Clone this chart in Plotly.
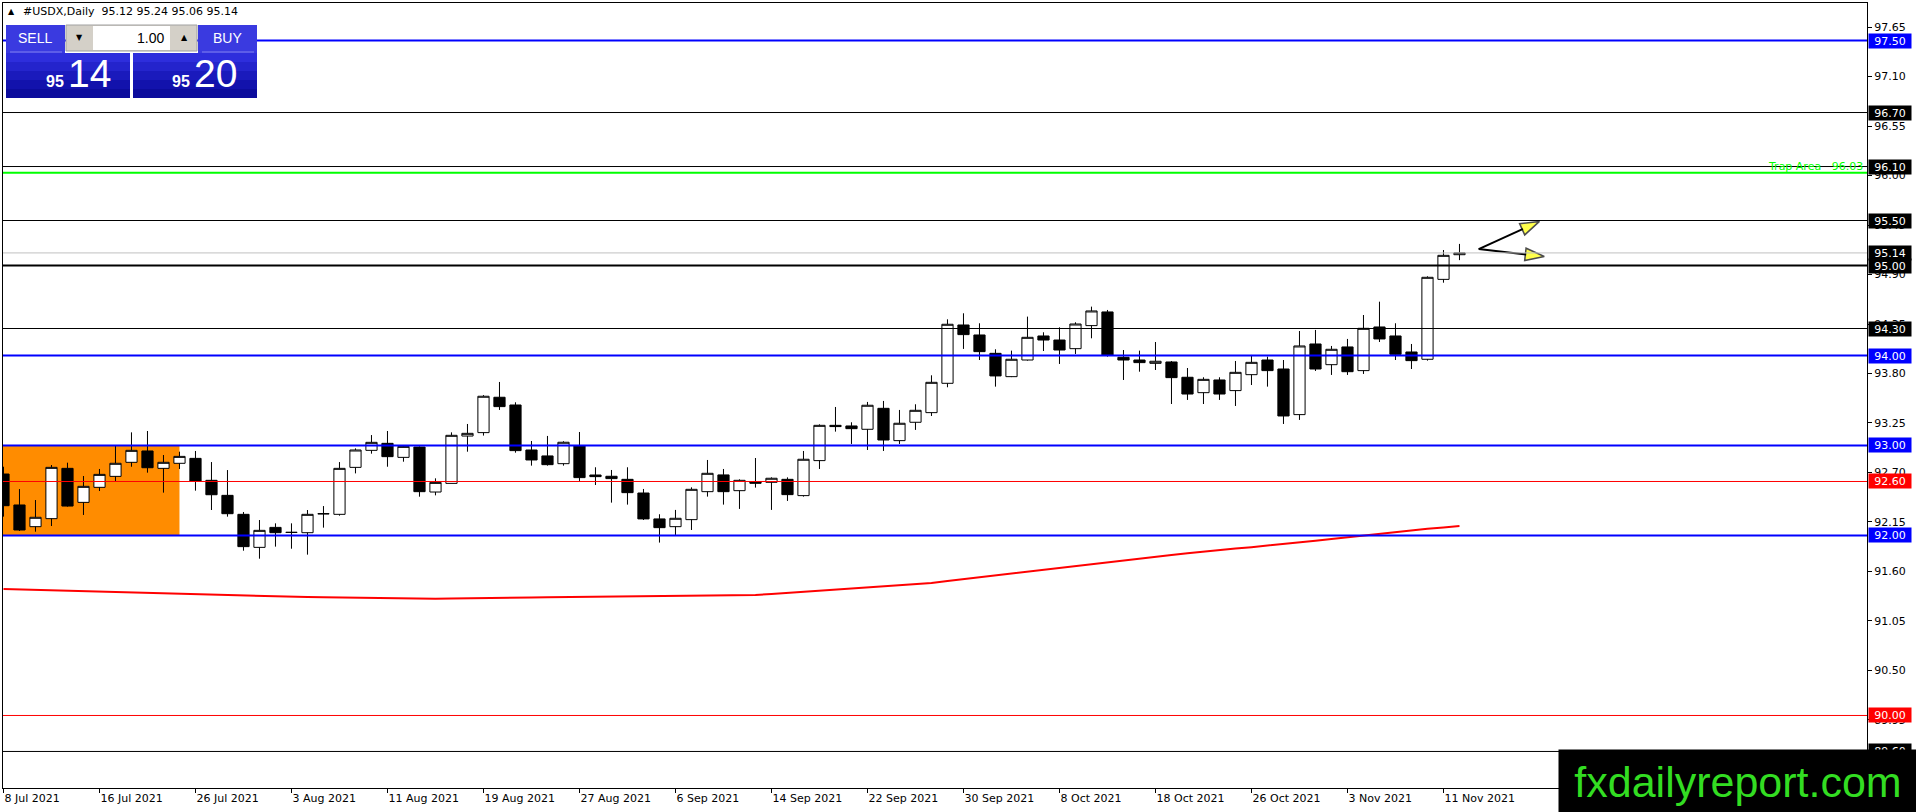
import plotly.graph_objects as go

# USDX daily, 8 Jul 2021 .. 12 Nov 2021
tick_pos = [0, 6, 12, 18, 24, 30, 36, 42, 48, 54, 60, 66, 72, 78, 84, 90]
tick_text = ["8 Jul 2021", "16 Jul 2021", "26 Jul 2021", "3 Aug 2021", "11 Aug 2021",
             "19 Aug 2021", "27 Aug 2021", "6 Sep 2021", "14 Sep 2021", "22 Sep 2021",
             "30 Sep 2021", "8 Oct 2021", "18 Oct 2021", "26 Oct 2021", "3 Nov 2021",
             "11 Nov 2021"]

opens = [92.683, 92.339, 92.098, 92.187, 92.746, 92.368, 92.535, 92.657, 92.813, 92.939,
         92.746, 92.802, 92.857, 92.613, 92.446, 92.235, 91.868, 92.090, 92.033, 92.031,
         92.240, 92.235, 92.757, 92.946, 93.024, 92.868, 92.983, 92.483, 92.579, 93.105,
         93.143, 93.536, 93.450, 92.950, 92.884, 92.798, 92.998, 92.672, 92.658, 92.624,
         92.472, 92.184, 92.098, 92.176, 92.487, 92.673, 92.498, 92.598, 92.591, 92.624,
         92.443, 92.832, 93.224, 93.217, 93.180, 93.413, 93.054, 93.258, 93.365, 93.691,
         94.339, 94.228, 94.024, 93.765, 93.950, 94.217, 94.172, 94.076, 94.332, 94.484,
         93.980, 93.950, 93.913, 93.928, 93.758, 93.587, 93.728, 93.610, 93.787, 93.950,
         93.850, 93.343, 94.128, 93.898, 94.095, 93.832, 94.317, 94.217, 94.039, 93.958,
         94.846, 95.120]
highs = [92.764, 92.516, 92.394, 92.783, 92.809, 92.661, 92.739, 93.005, 93.146, 93.161,
         92.894, 92.931, 92.939, 92.816, 92.727, 92.261, 92.172, 92.135, 92.135, 92.283,
         92.327, 92.816, 92.968, 93.116, 93.161, 93.005, 92.990, 92.635, 93.146, 93.239,
         93.560, 93.706, 93.480, 93.050, 93.106, 93.047, 93.150, 92.758, 92.728, 92.758,
         92.517, 92.236, 92.284, 92.535, 92.839, 92.739, 92.624, 92.861, 92.646, 92.646,
         92.939, 93.235, 93.428, 93.258, 93.484, 93.495, 93.395, 93.458, 93.780, 94.402,
         94.469, 94.358, 94.069, 94.054, 94.432, 94.258, 94.313, 94.369, 94.543, 94.506,
         94.061, 94.054, 94.150, 93.939, 93.861, 93.758, 93.758, 93.939, 94.006, 93.987,
         93.950, 94.272, 94.284, 94.106, 94.184, 94.450, 94.598, 94.358, 94.128, 94.880,
         95.172, 95.240]
lows = [92.209, 92.050, 92.042, 92.105, 92.320, 92.228, 92.494, 92.605, 92.764, 92.698,
        92.476, 92.739, 92.498, 92.283, 92.209, 91.831, 91.742, 91.876, 91.853, 91.787,
        92.087, 92.220, 92.690, 92.909, 92.764, 92.820, 92.431, 92.446, 92.579, 92.931,
        93.110, 93.395, 92.920, 92.776, 92.776, 92.776, 92.606, 92.561, 92.365, 92.343,
        92.172, 91.921, 92.006, 92.061, 92.432, 92.343, 92.295, 92.532, 92.284, 92.384,
        92.432, 92.739, 93.154, 93.017, 92.950, 92.939, 93.017, 93.173, 93.328, 93.647,
        94.073, 93.950, 93.654, 93.760, 93.943, 94.050, 93.906, 94.017, 94.191, 93.987,
        93.728, 93.820, 93.839, 93.461, 93.506, 93.461, 93.506, 93.439, 93.672, 93.654,
        93.239, 93.284, 93.828, 93.784, 93.784, 93.795, 94.150, 93.950, 93.850, 93.943,
        94.809, 95.060]
closes = [92.331, 92.061, 92.202, 92.757, 92.327, 92.546, 92.679, 92.802, 92.946, 92.753,
          92.813, 92.879, 92.605, 92.453, 92.242, 91.876, 92.057, 92.031, 92.035, 92.235,
          92.242, 92.746, 92.950, 93.035, 92.876, 92.990, 92.487, 92.590, 93.113, 93.135,
          93.547, 93.432, 92.943, 92.839, 92.787, 93.036, 92.643, 92.654, 92.632, 92.476,
          92.184, 92.087, 92.191, 92.513, 92.691, 92.487, 92.613, 92.580, 92.636, 92.454,
          92.847, 93.224, 93.210, 93.187, 93.447, 93.061, 93.247, 93.391, 93.702, 94.347,
          94.232, 94.043, 93.773, 93.958, 94.202, 94.172, 94.061, 94.350, 94.495, 94.006,
          93.950, 93.921, 93.936, 93.754, 93.572, 93.735, 93.572, 93.813, 93.924, 93.832,
          93.328, 94.106, 93.850, 94.069, 93.820, 94.302, 94.184, 94.013, 93.943, 94.869,
          95.113, 95.140]
ma = [91.405, 91.400, 91.394, 91.388, 91.385, 91.380, 91.374, 91.371, 91.368, 91.364,
      91.361, 91.356, 91.350, 91.345, 91.339, 91.334, 91.328, 91.324, 91.320, 91.316,
      91.313, 91.310, 91.307, 91.305, 91.302, 91.299, 91.298, 91.298, 91.300, 91.304,
      91.306, 91.308, 91.310, 91.312, 91.315, 91.317, 91.318, 91.319, 91.320, 91.322,
      91.323, 91.324, 91.325, 91.327, 91.328, 91.332, 91.336, 91.340, 91.350, 91.362,
      91.375, 91.386, 91.397, 91.409, 91.420, 91.433, 91.446, 91.459, 91.472, 91.494,
      91.515, 91.536, 91.558, 91.578, 91.598, 91.617, 91.640, 91.662, 91.684, 91.706,
      91.728, 91.746, 91.765, 91.784, 91.803, 91.822, 91.838, 91.854, 91.870, 91.886,
      91.902, 91.922, 91.942, 91.962, 91.982, 92.002, 92.020, 92.038, 92.056, 92.074,
      92.090, 92.105]

levels = [97.50, 96.70, 96.10, 95.50, 95.14, 95.00, 94.30, 94.00, 93.00, 92.60, 92.00, 90.00, 89.60]
level_kind = ["blue", "black", "black", "black", "bid", "thick", "black", "blue", "blue",
              "red", "blue", "red", "black"]
trap_price = 96.03
zone_bars = [-1, 11]
zone_prices = [92.00, 93.00]
arrow_start = [92.2, 95.183]
arrow_up = [96.0, 95.49]
arrow_down = [96.3, 95.10]
header = "#USDX,Daily\u00a0 95.12 95.24 95.06 95.14"
bid_big, ask_big, big_figure = "14", "20", "95"

# colour, width, label background
styles = {"blue": ("#0000FF", 2, "#0000FF"), "black": ("#000000", 1, "#000000"),
          "thick": ("#000000", 2, "#000000"), "bid": ("#C0C0C0", 1, "#000000"),
          "red": ("#FF0000", 1, "#FF0000")}

W, H = 1916, 812
L, R, T, B = 3, 1867, 3, 788


def px(x):
    return (x - L) / (R - L)


def py(y):
    return (B - y) / (B - T)


bars = list(range(len(opens)))

fig = go.Figure()
fig.add_trace(go.Candlestick(
    x=bars, open=opens, high=highs, low=lows, close=closes,
    increasing=dict(fillcolor="white", line=dict(color="black", width=1)),
    decreasing=dict(fillcolor="black", line=dict(color="black", width=1)),
    whiskerwidth=0, hoverinfo="skip", showlegend=False))
fig.add_trace(go.Scatter(x=bars, y=ma, mode="lines", line=dict(color="#FF0000", width=2),
                         hoverinfo="skip", showlegend=False))
for tip in (arrow_up, arrow_down):
    fig.add_trace(go.Scatter(
        x=[arrow_start[0], tip[0]], y=[arrow_start[1], tip[1]], mode="lines+markers",
        line=dict(color="black", width=2),
        marker=dict(symbol="arrow", size=[0, 20], angleref="previous", color="#FFFF00",
                    line=dict(color="black", width=[0, 1.5])),
        hoverinfo="skip", showlegend=False))

shapes = []
shapes.append(dict(type="rect", xref="x", yref="y", x0=zone_bars[0], x1=zone_bars[1],
                   y0=zone_prices[0], y1=zone_prices[1], fillcolor="#FF8C00",
                   line=dict(width=0), layer="below"))
for lv, kind in zip(levels, level_kind):
    col, wd, _ = styles[kind]
    shapes.append(dict(type="line", xref="paper", yref="y", x0=0, x1=1, y0=lv, y1=lv,
                       line=dict(color=col, width=wd), layer="above"))
shapes.append(dict(type="line", xref="paper", yref="y", x0=0, x1=1, y0=trap_price, y1=trap_price,
                   line=dict(color="#00FF00", width=2), layer="above"))


def box(x0, y0, x1, y1, fill, line=None):
    shapes.append(dict(type="rect", xref="paper", yref="paper", x0=px(x0), x1=px(x1),
                       y0=py(y1), y1=py(y0), fillcolor=fill, layer="above",
                       line=dict(width=0) if line is None else dict(color=line, width=1)))


# one-click trading panel
box(6, 25, 65, 53, "#3A3AE0")
box(198, 25, 257, 53, "#3A3AE0")
box(66, 25, 197, 51, "#D4D0C8", "#A0A0A0")
box(93, 26, 170, 50, "#FFFFFF")
shapes.append(dict(type="line", xref="paper", yref="paper", x0=px(10), x1=px(62),
                   y0=py(52), y1=py(52), line=dict(color="#8080F0", width=1), layer="above"))
shapes.append(dict(type="line", xref="paper", yref="paper", x0=px(202), x1=px(254),
                   y0=py(52), y1=py(52), line=dict(color="#8080F0", width=1), layer="above"))
grad = ["#2E2EDC", "#2424CC", "#1A1ABC", "#1212AC", "#0C0C9C"]
for i, c in enumerate(grad):
    ya, yb = 53 + i * 9, 53 + (i + 1) * 9
    box(6, ya, 130, yb, c)
    box(133, ya, 257, yb, c)


def label(text, x, y, size, color, family="Liberation Sans", xanchor="center"):
    return dict(text=text, x=px(x), y=py(y), xref="paper", yref="paper", showarrow=False,
                xanchor=xanchor, yanchor="middle",
                font=dict(family=family, size=size, color=color))


ann = []
ann.append(label("▲", 11, 12, 8, "black", "DejaVu Sans"))
ann.append(label(header, 21, 12, 11, "black", "DejaVu Sans", "left"))
ann.append(label("SELL", 35, 38, 14, "white"))
ann.append(label("BUY", 227, 38, 14, "white"))
ann.append(label("1.00", 166, 38, 14, "black", xanchor="right"))
ann.append(label("▼", 79, 38, 8, "black", "DejaVu Sans"))
ann.append(label("▲", 184, 38, 8, "black", "DejaVu Sans"))
for xs, xb, big in ((55, 89, bid_big), (181, 215, ask_big)):
    ann.append(label("<b>" + big_figure + "</b>", xs, 82, 16, "white"))
    ann.append(label(big, xb, 74, 39, "white"))

ann.append(dict(text="Trap Area\u00a0\u00a0\u00a0" + "%.2f" % trap_price, x=1, y=trap_price,
                xref="paper", yref="y", xanchor="right", yanchor="bottom", showarrow=False,
                xshift=-2, yshift=-2, font=dict(family="DejaVu Sans", size=11, color="#00FF00")))
for lv, kind in zip(levels, level_kind):
    ann.append(dict(text="%.2f" % lv, x=1, y=lv, xref="paper", yref="y", xanchor="left",
                    yanchor="middle", xshift=1, showarrow=False, bgcolor=styles[kind][2],
                    borderpad=1, width=40, height=12,
                    font=dict(family="DejaVu Sans", size=11, color="white")))
# watermark sits on top of everything
ann.append(dict(text="fxdailyreport.com", x=px(1558), y=py(749), xref="paper", yref="paper",
                xanchor="left", yanchor="top", showarrow=False, bgcolor="black", borderpad=0,
                width=358, height=63, align="center",
                font=dict(family="Liberation Sans", size=43, color="#33DD22")))

fig.update_layout(
    width=W, height=H, autosize=False,
    margin=dict(l=L, r=W - R, t=T, b=H - B, pad=0),
    plot_bgcolor="white", paper_bgcolor="white",
    showlegend=False, boxgap=0.3, boxgroupgap=0,
    shapes=shapes, annotations=ann,
    xaxis=dict(range=[-0.03, 116.47], tickvals=tick_pos, ticktext=tick_text,
               ticklabelposition="outside right", ticks="outside", ticklen=4,
               tickcolor="black", showgrid=False, zeroline=False, showline=True,
               linecolor="black", linewidth=1, mirror=True,
               rangeslider=dict(visible=False),
               tickfont=dict(family="DejaVu Sans", size=11, color="black")),
    yaxis=dict(range=[89.194, 97.917], side="right", tick0=97.65, dtick=0.55,
               tickformat=".2f", ticks="outside", ticklen=4, tickcolor="black",
               showgrid=False, zeroline=False, showline=True, linecolor="black",
               linewidth=1, mirror=True,
               tickfont=dict(family="DejaVu Sans", size=11, color="black")),
)

fig.write_html("out.html", config={"displayModeBar": False},
               post_script="document.body.style.margin='0';document.body.style.overflow='hidden';")
